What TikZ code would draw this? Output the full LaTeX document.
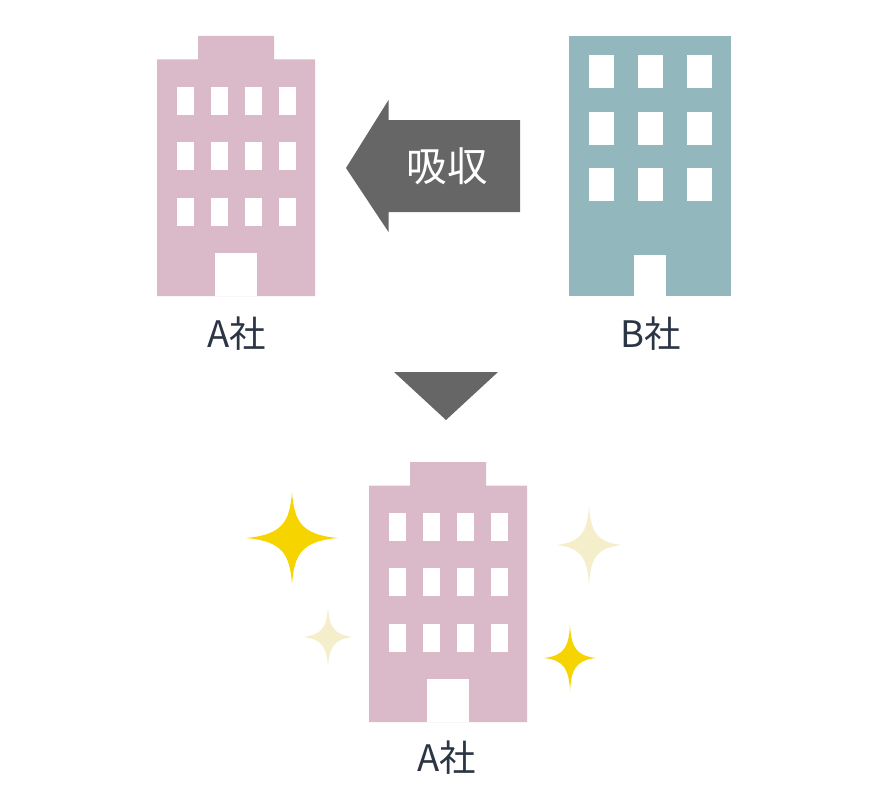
\documentclass[tikz,border=0pt]{standalone}
\usepackage{fontspec}
\newfontfamily\jp{Noto Sans CJK JP}
\definecolor{pinkb}{HTML}{DABAC9}
\definecolor{tealb}{HTML}{92B7BC}
\definecolor{arrowgray}{HTML}{666666}
\definecolor{inkc}{HTML}{2B3544}
\definecolor{goldstar}{HTML}{F5D400}
\definecolor{palestar}{HTML}{F4EECB}
\tikzset{
  namelabel/.style={text=inkc,font=\jp\fontsize{36.5}{40}\selectfont,inner sep=0pt,anchor=center},
  arrowlabel/.style={text=white,font=\jp\fontsize{40.5}{44}\selectfont,inner sep=0pt,anchor=center},
  holes/.style={fill=white,draw=none},
  arrowshape/.style={fill=arrowgray,draw=none}
}
\newcommand{\pinkbuilding}[2]{%
  \begin{scope}[shift={(#1,#2)}]
    \fill[pinkb] (157,59.5) -- (198,59.5) -- (198,36) -- (274,36) -- (274,59.5) -- (315,59.5) -- (315,296) -- (157,296) -- cycle;
    \foreach \wy in {87,142,198}{
      \foreach \wx in {177,211,245,279}{
        \fill[holes] (\wx,\wy) rectangle ++(17,28);
      }
    }
    \fill[holes] (215,253) rectangle (257,296);
  \end{scope}}
\newcommand{\sparkle}[5]{% cx cy rx ry colour
  \fill[#5] (#1,#2-#4)
    .. controls (#1+0.05*#3,#2-0.36*#4) and (#1+0.20*#3,#2-0.07*#4) .. (#1+#3,#2)
    .. controls (#1+0.20*#3,#2+0.07*#4) and (#1+0.05*#3,#2+0.36*#4) .. (#1,#2+#4)
    .. controls (#1-0.05*#3,#2+0.36*#4) and (#1-0.20*#3,#2+0.07*#4) .. (#1-#3,#2)
    .. controls (#1-0.20*#3,#2-0.07*#4) and (#1-0.05*#3,#2-0.36*#4) .. cycle;}
\begin{document}
\begin{tikzpicture}[x=1pt,y=-1pt]
\useasboundingbox (0,0) rectangle (880,800);
\pinkbuilding{0}{0}
\pinkbuilding{212}{426}
% B building
\fill[tealb] (569,36) rectangle (731,296);
\foreach \wy in {55,112,168}{
  \foreach \wx in {589,638,687}{
    \fill[holes] (\wx,\wy) rectangle ++(25,33);
  }
}
\fill[holes] (634,255) rectangle (666,296);
% arrows
\fill[arrowshape] (346,168) -- (388.5,100) -- (388.5,120) -- (520,120) -- (520,212) -- (388.5,212) -- (388.5,232) -- cycle;
\fill[arrowshape] (394,372) -- (498,372) -- (446,420) -- cycle;
% sparkles
\sparkle{292}{538}{46}{46}{goldstar}
\sparkle{589}{545}{33}{40}{palestar}
\sparkle{328}{637}{25}{31}{palestar}
\sparkle{570}{658}{26}{33}{goldstar}
% labels
\node[arrowlabel] (absorb) at (447,166) {吸収};
\node[namelabel] (companyA) at (236.5,334) {A社};
\node[namelabel] (companyB) at (650.5,334) {B社};
\node[namelabel] (companyAafter) at (446.5,758) {A社};
\end{tikzpicture}
\end{document}
